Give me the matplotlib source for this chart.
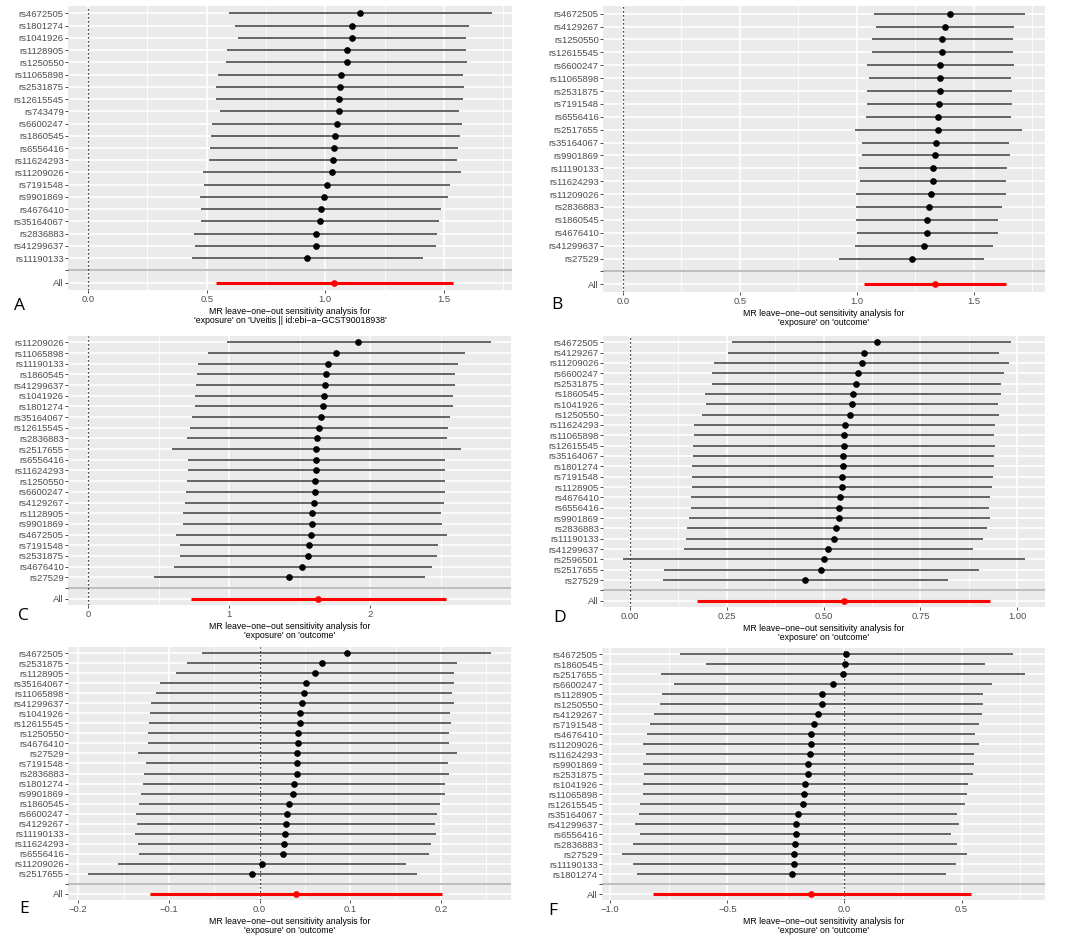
import matplotlib
matplotlib.use('Agg')
import matplotlib.pyplot as plt
import numpy as np

plt.rcParams['font.family'] = ['Liberation Sans', 'DejaVu Sans']

# ---- panel A ----
a_snps = ['rs4672505', 'rs1801274', 'rs1041926', 'rs1128905', 'rs1250550', 'rs11065898',
          'rs2531875', 'rs12615545', 'rs743479', 'rs6600247', 'rs1860545', 'rs6556416',
          'rs11624293', 'rs11209026', 'rs7191548', 'rs9901869', 'rs4676410', 'rs35164067',
          'rs2836883', 'rs41299637', 'rs11190133']
a_b = [1.147, 1.112, 1.112, 1.092, 1.091, 1.064, 1.061, 1.058, 1.058, 1.048, 1.041, 1.037,
       1.034, 1.029, 1.005, 0.994, 0.981, 0.978, 0.959, 0.959, 0.923]
a_lo = [0.593, 0.621, 0.632, 0.587, 0.582, 0.547, 0.540, 0.538, 0.554, 0.520, 0.516, 0.514,
        0.510, 0.486, 0.489, 0.471, 0.476, 0.475, 0.448, 0.451, 0.437]
a_hi = [1.702, 1.604, 1.594, 1.595, 1.598, 1.580, 1.584, 1.580, 1.563, 1.578, 1.567, 1.559,
        1.557, 1.574, 1.525, 1.518, 1.487, 1.480, 1.472, 1.466, 1.411]
a_all = [1.037, 0.537, 1.539]
a_ticks = [0.0, 0.5, 1.0, 1.5]
a_ticklabels = ['0.0', '0.5', '1.0', '1.5']

# ---- panel B ----
b_snps = ['rs4672505', 'rs4129267', 'rs1250550', 'rs12615545', 'rs6600247', 'rs11065898',
          'rs2531875', 'rs7191548', 'rs6556416', 'rs2517655', 'rs35164067', 'rs9901869',
          'rs11190133', 'rs11624293', 'rs11209026', 'rs2836883', 'rs1860545', 'rs4676410',
          'rs41299637', 'rs27529']
b_b = [1.398, 1.376, 1.366, 1.365, 1.358, 1.356, 1.355, 1.353, 1.349, 1.349, 1.338, 1.336,
       1.325, 1.325, 1.318, 1.309, 1.302, 1.302, 1.288, 1.235]
b_lo = [1.076, 1.084, 1.065, 1.064, 1.046, 1.054, 1.045, 1.044, 1.038, 0.992, 1.024, 1.021,
        1.008, 1.012, 0.999, 0.996, 0.999, 1.002, 0.992, 0.926]
b_hi = [1.720, 1.673, 1.667, 1.667, 1.672, 1.662, 1.666, 1.665, 1.662, 1.706, 1.653, 1.657,
        1.643, 1.639, 1.639, 1.622, 1.606, 1.603, 1.585, 1.545]
b_all = [1.335, 1.032, 1.639]
b_ticks = [0.0, 0.5, 1.0, 1.5]
b_ticklabels = ['0.0', '0.5', '1.0', '1.5']

# ---- panel C ----
c_snps = ['rs11209026', 'rs11065898', 'rs11190133', 'rs1860545', 'rs41299637', 'rs1041926',
          'rs1801274', 'rs35164067', 'rs12615545', 'rs2836883', 'rs2517655', 'rs6556416',
          'rs11624293', 'rs1250550', 'rs6600247', 'rs4129267', 'rs1128905', 'rs9901869',
          'rs4672505', 'rs7191548', 'rs2531875', 'rs4676410', 'rs27529']
c_b = [1.917, 1.761, 1.704, 1.685, 1.683, 1.671, 1.666, 1.650, 1.638, 1.624, 1.619, 1.617,
       1.614, 1.612, 1.612, 1.600, 1.588, 1.586, 1.581, 1.567, 1.557, 1.520, 1.427]
c_lo = [0.982, 0.852, 0.781, 0.769, 0.762, 0.760, 0.755, 0.738, 0.724, 0.703, 0.594, 0.705,
        0.705, 0.701, 0.691, 0.684, 0.675, 0.670, 0.622, 0.653, 0.649, 0.608, 0.466]
c_hi = [2.857, 2.675, 2.625, 2.604, 2.606, 2.587, 2.587, 2.566, 2.556, 2.549, 2.646, 2.533,
        2.533, 2.530, 2.535, 2.521, 2.502, 2.509, 2.547, 2.485, 2.473, 2.438, 2.393]
c_all = [1.631, 0.731, 2.537]
c_ticks = [0, 1, 2]
c_ticklabels = ['0', '1', '2']

# ---- panel D ----
d_snps = ['rs4672505', 'rs4129267', 'rs11209026', 'rs6600247', 'rs2531875', 'rs1860545',
          'rs1041926', 'rs1250550', 'rs11624293', 'rs11065898', 'rs12615545', 'rs35164067',
          'rs1801274', 'rs7191548', 'rs1128905', 'rs4676410', 'rs6556416', 'rs9901869',
          'rs2836883', 'rs11190133', 'rs41299637', 'rs2596501', 'rs2517655', 'rs27529']
d_b = [0.637, 0.604, 0.599, 0.588, 0.584, 0.575, 0.573, 0.569, 0.556, 0.553, 0.552, 0.551,
       0.550, 0.548, 0.547, 0.543, 0.541, 0.539, 0.531, 0.528, 0.512, 0.500, 0.494, 0.452]
d_lo = [0.263, 0.254, 0.217, 0.211, 0.212, 0.194, 0.196, 0.186, 0.166, 0.164, 0.163, 0.163,
        0.161, 0.160, 0.159, 0.157, 0.157, 0.151, 0.146, 0.144, 0.140, -0.018, 0.088, 0.084]
d_hi = [0.985, 0.954, 0.980, 0.965, 0.958, 0.958, 0.951, 0.953, 0.944, 0.941, 0.942, 0.941,
        0.940, 0.938, 0.936, 0.931, 0.927, 0.929, 0.921, 0.913, 0.885, 1.020, 0.901, 0.821]
d_all = [0.552, 0.174, 0.931]
d_ticks = [0.0, 0.25, 0.5, 0.75, 1.0]
d_ticklabels = ['0.00', '0.25', '0.50', '0.75', '1.00']

# ---- panel E ----
e_snps = ['rs4672505', 'rs2531875', 'rs1128905', 'rs35164067', 'rs11065898', 'rs41299637',
          'rs1041926', 'rs12615545', 'rs1250550', 'rs4676410', 'rs27529', 'rs7191548',
          'rs2836883', 'rs1801274', 'rs9901869', 'rs1860545', 'rs6600247', 'rs4129267',
          'rs11190133', 'rs11624293', 'rs6556416', 'rs11209026', 'rs2517655']
e_b = [0.0958, 0.0685, 0.0611, 0.0516, 0.0486, 0.0471, 0.0446, 0.0442, 0.0427, 0.0424,
       0.0416, 0.0409, 0.0409, 0.0376, 0.0368, 0.0328, 0.0298, 0.0287, 0.0284, 0.0273,
       0.0262, 0.0026, -0.0081]
e_lo = [-0.0637, -0.0796, -0.0921, -0.1101, -0.1145, -0.1197, -0.1204, -0.1215, -0.1234,
        -0.1234, -0.1344, -0.1252, -0.1274, -0.1289, -0.1304, -0.1330, -0.1366, -0.1355,
        -0.1374, -0.1344, -0.1333, -0.1558, -0.1890]
e_hi = [0.2549, 0.2173, 0.2147, 0.2144, 0.2122, 0.2140, 0.2099, 0.2107, 0.2092, 0.2088,
        0.2177, 0.2074, 0.2088, 0.2041, 0.2048, 0.1985, 0.1959, 0.1934, 0.1948, 0.1893,
        0.1864, 0.1613, 0.1735]
e_all = [0.0398, -0.1204, 0.2011]
e_ticks = [-0.2, -0.1, 0.0, 0.1, 0.2]
e_ticklabels = ['\u22120.2', '\u22120.1', '0.0', '0.1', '0.2']

# ---- panel F ----
f_snps = ['rs4672505', 'rs1860545', 'rs2517655', 'rs6600247', 'rs1128905', 'rs1250550',
          'rs4129267', 'rs7191548', 'rs4676410', 'rs11209026', 'rs11624293', 'rs9901869',
          'rs2531875', 'rs1041926', 'rs11065898', 'rs12615545', 'rs35164067', 'rs41299637',
          'rs6556416', 'rs2836883', 'rs27529', 'rs11190133', 'rs1801274']
f_b = [0.0085, 0.003, -0.007, -0.051, -0.094, -0.097, -0.115, -0.128, -0.142, -0.144,
       -0.147, -0.154, -0.155, -0.168, -0.171, -0.178, -0.198, -0.205, -0.209, -0.211,
       -0.215, -0.216, -0.225]
f_lo = [-0.703, -0.592, -0.784, -0.729, -0.780, -0.787, -0.814, -0.828, -0.842, -0.861,
        -0.848, -0.860, -0.857, -0.861, -0.861, -0.872, -0.877, -0.894, -0.872, -0.901,
        -0.949, -0.901, -0.885]
f_hi = [0.720, 0.598, 0.770, 0.628, 0.592, 0.593, 0.586, 0.574, 0.559, 0.574, 0.554, 0.554,
        0.548, 0.529, 0.522, 0.515, 0.482, 0.490, 0.453, 0.482, 0.521, 0.474, 0.434]
f_all = [-0.141, -0.818, 0.538]
f_ticks = [-1.0, -0.5, 0.0, 0.5]
f_ticklabels = ['\u22121.0', '\u22120.5', '0.0', '0.5']

label_a = "MR leave\u2212one\u2212out sensitivity analysis for\n'exposure' on 'Uveitis || id:ebi\u2212a\u2212GCST90018938'"
label_other = "MR leave\u2212one\u2212out sensitivity analysis for\n'exposure' on 'outcome'"

W, H = 1065, 939
fig = plt.figure(figsize=(W / 100, H / 100), dpi=100)


def draw_panel(box, snps, b, lo, hi, overall, ticks, ticklabels, xlabel, letter, letter_xy):
    left, top, right, bottom = box
    ax = fig.add_axes([left / W, 1 - bottom / H, (right - left) / W, (bottom - top) / H])
    ax.set_facecolor('#EBEBEB')
    n = len(snps)
    ypos = np.arange(n + 2, 2, -1)  # top SNP highest

    xmin = min(min(lo), overall[1], 0)
    xmax = max(max(hi), overall[2], 0)
    pad = 0.05 * (xmax - xmin)
    ax.set_xlim(xmin - pad, xmax + pad)
    ax.set_ylim(0.4, n + 2.6)

    # grid like ggplot
    step = ticks[1] - ticks[0]
    minors = [t + step / 2 for t in ticks] + [ticks[0] - step / 2]
    for m in minors:
        if xmin - pad < m < xmax + pad:
            ax.axvline(m, color='white', lw=0.6, zorder=0)
    for t in ticks:
        ax.axvline(t, color='white', lw=1.2, zorder=0)
    for y in list(ypos) + [1, 2]:
        ax.axhline(y, color='white', lw=1.2, zorder=0)

    ax.axhline(2, color='#BEBEBE', lw=1.4, zorder=1)
    ax.axvline(0, color='black', lw=0.9, ls=(0, (1, 2.2)), zorder=2)

    ax.hlines(ypos, lo, hi, color='#3c3c3c', lw=1.1, zorder=3)
    ax.plot(b, ypos, 'o', color='black', ms=3.8, zorder=4)
    ax.hlines(1, overall[1], overall[2], color='#FF0000', lw=2.2, zorder=3)
    ax.plot([overall[0]], [1], 'o', color='#FF0000', ms=3.8, zorder=4)

    ax.set_yticks(list(ypos) + [2, 1])
    ax.set_yticklabels(snps + ['', 'All'])
    ax.set_xticks(ticks)
    ax.set_xticklabels(ticklabels)
    ax.tick_params(length=2, width=0.6, color='#333333', labelsize=6.8,
                   labelcolor='#4D4D4D', pad=1.5)
    ax.tick_params(axis='y', pad=1)
    for s in ax.spines.values():
        s.set_visible(False)
    ax.set_xlabel(xlabel, fontsize=6.3, labelpad=2, linespacing=1.0, color='black')
    fig.text(letter_xy[0] / W, 1 - letter_xy[1] / H, letter, fontsize=12.5,
             family=['Open Sans', 'DejaVu Sans'], va='center', ha='left')
    return ax


draw_panel((68, 6, 512, 290), a_snps, a_b, a_lo, a_hi, a_all, a_ticks, a_ticklabels,
           label_a, 'A', (14, 306))
draw_panel((603, 6, 1045, 292), b_snps, b_b, b_lo, b_hi, b_all, b_ticks, b_ticklabels,
           label_other, 'B', (551, 305))
draw_panel((68, 336, 511, 605), c_snps, c_b, c_lo, c_hi, c_all, c_ticks, c_ticklabels,
           label_other, 'C', (18, 616))
draw_panel((603, 336, 1045, 607), d_snps, d_b, d_lo, d_hi, d_all, d_ticks, d_ticklabels,
           label_other, 'D', (553, 618))
draw_panel((68, 647, 511, 900), e_snps, e_b, e_lo, e_hi, e_all, e_ticks, e_ticklabels,
           label_other, 'E', (19, 909))
draw_panel((602, 648, 1045, 900), f_snps, f_b, f_lo, f_hi, f_all, f_ticks, f_ticklabels,
           label_other, 'F', (548, 911))

fig.savefig('out.png', dpi=100, facecolor='white')
